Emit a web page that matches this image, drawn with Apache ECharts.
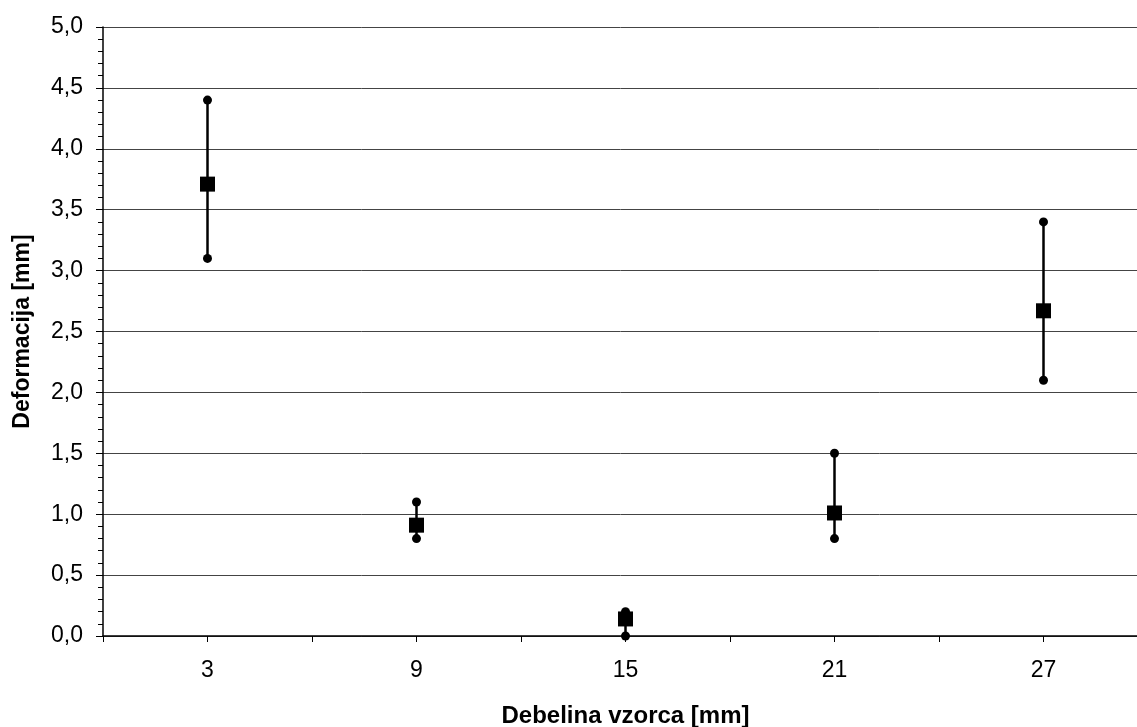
<!DOCTYPE html>
<html>
<head>
<meta charset="utf-8">
<script src="https://cdn.jsdelivr.net/npm/echarts@6/dist/echarts.min.js"></script>
<style>
  html, body { margin: 0; padding: 0; background: #fff; }
  #chart { width: 1137px; height: 727px; }
</style>
</head>
<body>
<div id="chart"></div>
<script>
// podatki
const thickness = [3, 9, 15, 21, 27]
const meanDef = [3.71, 0.91, 0.14, 1.01, 2.67]
const minDef = [3.1, 0.8, 0.0, 0.8, 2.1]
const maxDef = [4.4, 1.1, 0.2, 1.5, 3.4]
const xLabels = [3, 9, 15, 21, 27]

const font = 'Arial, "Liberation Sans", sans-serif'

const chart = echarts.init(document.getElementById('chart'))

const rangeData = thickness.map((x, i) => [x, minDef[i], maxDef[i]])
const dotData = []
thickness.forEach((x, i) => {
  dotData.push([x, minDef[i]])
  dotData.push([x, maxDef[i]])
})
const meanData = thickness.map((x, i) => [x, meanDef[i]])

const option = {
  backgroundColor: '#fff',
  animation: false,
  grid: {
    left: 103,
    top: 27,
    bottom: 91,
    width: 1045,
    containLabel: false,
    outerBoundsMode: 'none'
  },
  xAxis: {
    type: 'value',
    min: 0,
    max: 30,
    interval: 3,
    name: 'Debelina vzorca [mm]',
    nameLocation: 'middle',
    nameGap: 68,
    nameTextStyle: { fontFamily: font, fontSize: 24, fontWeight: 'bold', color: '#000' },
    axisLine: { lineStyle: { color: '#000', width: 1.5 } },
    axisTick: { show: true, length: 6, lineStyle: { color: '#000' } },
    splitLine: { show: false },
    axisLabel: {
      margin: 23,
      color: '#000',
      fontFamily: font,
      fontSize: 23,
      showMaxLabel: false,
      formatter: function (v) {
        return xLabels.indexOf(v) >= 0 ? String(v) : ''
      }
    }
  },
  yAxis: {
    type: 'value',
    min: 0,
    max: 5,
    interval: 0.5,
    name: 'Deformacija [mm]',
    nameLocation: 'middle',
    nameGap: 69,
    nameTextStyle: { fontFamily: font, fontSize: 23, fontWeight: 'bold', color: '#000' },
    axisLine: { show: true, lineStyle: { color: '#000', width: 1.5 } },
    axisTick: { show: true, length: 7, lineStyle: { color: '#000' } },
    minorTick: { show: true, splitNumber: 5, length: 5, lineStyle: { color: '#000' } },
    splitLine: { show: true, lineStyle: { color: '#444', width: 1 } },
    axisLabel: {
      margin: 20,
      color: '#000',
      fontFamily: font,
      fontSize: 23,
      formatter: function (v) { return v.toFixed(1).replace('.', ',') }
    }
  },
  series: [
    {
      type: 'custom',
      data: rangeData,
      renderItem: function (params, api) {
        const lo = api.coord([api.value(0), api.value(1)])
        const hi = api.coord([api.value(0), api.value(2)])
        return {
          type: 'line',
          shape: { x1: lo[0], y1: lo[1], x2: hi[0], y2: hi[1] },
          style: { stroke: '#000', lineWidth: 2.5 }
        }
      },
      z: 2
    },
    {
      type: 'scatter',
      data: dotData,
      symbol: 'circle',
      symbolSize: 9,
      itemStyle: { color: '#000', opacity: 1 },
      z: 3
    },
    {
      type: 'scatter',
      data: meanData,
      symbol: 'rect',
      symbolSize: 15,
      itemStyle: { color: '#000', opacity: 1 },
      z: 4
    }
  ]
}

chart.setOption(option)
</script>
</body>
</html>
